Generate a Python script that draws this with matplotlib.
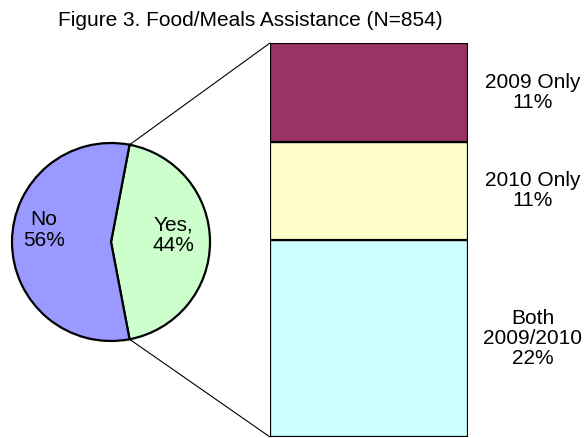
import numpy as np
import matplotlib.pyplot as plt
from matplotlib.patches import ConnectionPatch

plt.rcParams['font.family'] = ['Liberation Sans', 'DejaVu Sans']

# pie data
pie_labels = ['Yes,', 'No']
pie_values = [44, 56]
pie_colors = ['#CCFFCC', '#9999FF']

# bar (breakdown of "Yes")
bar_labels = ['Both\n2009/2010', '2010 Only', '2009 Only']
bar_values = [22, 11, 11]
bar_colors = ['#CCFFFF', '#FFFFCC', '#993366']

W, H = 587, 438
fig = plt.figure(figsize=(W / 100, H / 100), dpi=100)

def px_axes(x0, y0, x1, y1):
    # pixel box (top-left origin) -> figure axes
    return fig.add_axes([x0 / W, 1 - y1 / H, (x1 - x0) / W, (y1 - y0) / H])

# pie
ax1 = px_axes(12, 143, 210, 341)
half = pie_values[0] / 100 * 180
wedges, _ = ax1.pie(pie_values, startangle=-half, colors=pie_colors,
                    wedgeprops=dict(edgecolor='black', linewidth=1.6))
ax1.set_xlim(-1.0, 1.0)
ax1.set_ylim(-1.0, 1.0)
ax1.set_aspect('equal')
ax1.axis('off')

# label placement inside wedges (radius, vertical nudge)
label_r = [0.63, 0.68]
label_dy = [0.07, 0.12]
for w, lab, v, r, dy in zip(wedges, pie_labels, pie_values, label_r, label_dy):
    ang = np.deg2rad((w.theta1 + w.theta2) / 2)
    ax1.text(r * np.cos(ang), r * np.sin(ang) + dy, '%s\n%d%%' % (lab, v),
             ha='center', va='center', fontsize=15, linespacing=1.1)

# stacked bar
ax2 = px_axes(270, 43, 468, 437)
bottom = 0
for lab, v, c in zip(bar_labels, bar_values, bar_colors):
    ax2.bar(0, v, width=1, bottom=bottom, color=c, edgecolor='black', linewidth=1.6)
    ax2.text(0.826, bottom + v / 2, '%s\n%d%%' % (lab, v), ha='center', va='center',
             fontsize=15, linespacing=1.1, clip_on=False)
    bottom += v
ax2.set_xlim(-0.5, 0.5)
ax2.set_ylim(0, sum(bar_values))
ax2.axis('off')

# connector lines
a = np.deg2rad(half)
for sgn, yb in [(1, sum(bar_values)), (-1, 0)]:
    con = ConnectionPatch(xyA=(np.cos(a), sgn * np.sin(a)), coordsA=ax1.transData,
                          xyB=(-0.5, yb), coordsB=ax2.transData,
                          color='black', linewidth=0.8)
    fig.add_artist(con)

fig.text(250 / W, 1 - 21 / H, 'Figure 3. Food/Meals Assistance (N=854)',
         ha='center', va='center', fontsize=15)

plt.savefig('out.png', dpi=100)
